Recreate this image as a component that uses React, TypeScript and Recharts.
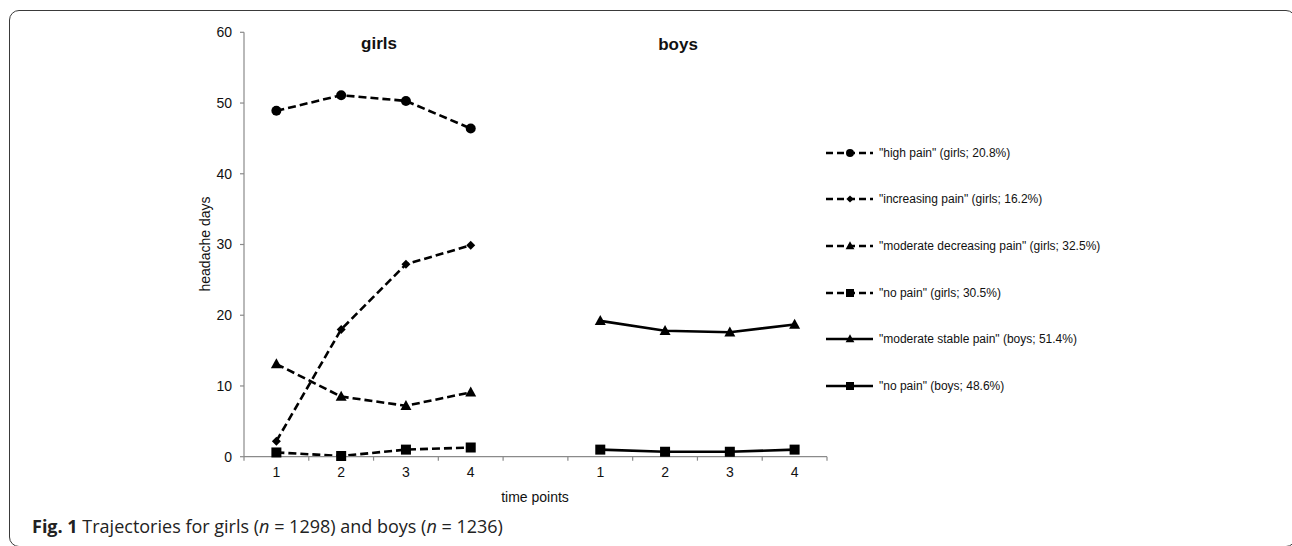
import React from 'react';
import { LineChart, Line, XAxis, YAxis, Legend } from 'recharts';

// ---------- data ----------
const TIME_LABELS = ['1', '2', '3', '4', '', '1', '2', '3', '4'];
const GIRLS_SLOTS = [1, 2, 3, 4];
const BOYS_SLOTS = [6, 7, 8, 9];

const girlsHighPain = [48.9, 51.1, 50.3, 46.4];
const girlsIncreasingPain = [2.2, 18.0, 27.2, 29.9];
const girlsModerateDecreasing = [13.1, 8.5, 7.2, 9.1];
const girlsNoPain = [0.6, 0.1, 1.0, 1.3];
const boysModerateStable = [19.2, 17.8, 17.6, 18.7];
const boysNoPain = [1.0, 0.7, 0.7, 1.0];

const Y_TICKS = [0, 10, 20, 30, 40, 50, 60];

type Shape = 'circle' | 'diamond' | 'triangle' | 'square';
interface SeriesDef {
  key: string;
  name: string;
  values: number[];
  group: 'girls' | 'boys';
  shape: Shape;
  dashed: boolean;
}

const SERIES: SeriesDef[] = [
  { key: 'girlsHigh', name: '"high pain" (girls; 20.8%)', values: girlsHighPain, group: 'girls', shape: 'circle', dashed: true },
  { key: 'girlsInc', name: '"increasing pain" (girls; 16.2%)', values: girlsIncreasingPain, group: 'girls', shape: 'diamond', dashed: true },
  { key: 'girlsModDec', name: '"moderate decreasing pain" (girls; 32.5%)', values: girlsModerateDecreasing, group: 'girls', shape: 'triangle', dashed: true },
  { key: 'girlsNo', name: '"no pain" (girls; 30.5%)', values: girlsNoPain, group: 'girls', shape: 'square', dashed: true },
  { key: 'boysModStable', name: '"moderate stable pain" (boys; 51.4%)', values: boysModerateStable, group: 'boys', shape: 'triangle', dashed: false },
  { key: 'boysNo', name: '"no pain" (boys; 48.6%)', values: boysNoPain, group: 'boys', shape: 'square', dashed: false },
];

const DATA = TIME_LABELS.map((_, i) => {
  const slot = i + 1;
  const row: Record<string, number | null> = { x: slot };
  SERIES.forEach((s) => {
    const slots = s.group === 'girls' ? GIRLS_SLOTS : BOYS_SLOTS;
    const idx = slots.indexOf(slot);
    row[s.key] = idx >= 0 ? s.values[idx] : null;
  });
  return row;
});

const X_BOUNDS = TIME_LABELS.map((_, i) => i + 0.5).concat([TIME_LABELS.length + 0.5]);

// ---------- layout ----------
const W = 1292;
const H = 546;
const PLOT_LEFT = 244;
const PLOT_RIGHT = 827;
const PLOT_TOP = 32.3;
const PLOT_BOTTOM = 456.7;
const Y_AXIS_W = 60;
const X_AXIS_H = 30;
const BAND = (PLOT_RIGHT - PLOT_LEFT) / TIME_LABELS.length;
const FONT = '"Liberation Sans", Arial, Helvetica, sans-serif';
const INK = '#111';
const AXIS = '#8a8a8a';
const DASH = '8 4';

function Marker({ shape, cx, cy, size }: { shape: Shape; cx: number; cy: number; size: number }) {
  const h = size / 2;
  if (shape === 'circle') return <circle cx={cx} cy={cy} r={h} fill="#000" />;
  if (shape === 'square') return <rect x={cx - h} y={cy - h} width={size} height={size} fill="#000" />;
  if (shape === 'diamond') {
    const d = h * 0.9;
    return <polygon points={`${cx},${cy - d} ${cx + d},${cy} ${cx},${cy + d} ${cx - d},${cy}`} fill="#000" />;
  }
  const w = size * 1.1;
  const ht = size;
  return (
    <polygon
      points={`${cx},${cy - ht * 0.58} ${cx + w / 2},${cy + ht * 0.42} ${cx - w / 2},${cy + ht * 0.42}`}
      fill="#000"
    />
  );
}

function makeDot(shape: Shape) {
  return (props: any) => {
    const { cx, cy, index } = props;
    if (cx == null || cy == null || props.value == null || Number.isNaN(cy)) return <g key={`d-${index}`} />;
    return (
      <g key={`d-${index}`}>
        <Marker shape={shape} cx={cx} cy={cy} size={10} />
      </g>
    );
  };
}

function TimeTick(props: any) {
  const { x, y, payload } = props;
  const idx = Math.round(payload.value - 0.5);
  const label = TIME_LABELS[idx];
  if (!label) return <g />;
  return (
    <text x={x + BAND / 2} y={y} dy="0.71em" textAnchor="middle" fontSize={14} fill={INK} fontFamily={FONT}>
      {label}
    </text>
  );
}

function LegendContent() {
  return (
    <div style={{ fontFamily: FONT, fontSize: 12, color: INK }}>
      {SERIES.map((s) => (
        <div key={s.key} style={{ height: 46.67, display: 'flex', alignItems: 'center', whiteSpace: 'nowrap' }}>
          <svg width={48} height={12} style={{ display: 'block' }}>
            <line x1={0} y1={6} x2={47} y2={6} stroke="#000" strokeWidth={2.5} strokeDasharray={s.dashed ? '7 4' : undefined} />
            <Marker shape={s.shape} cx={24} cy={6} size={8} />
          </svg>
          <span style={{ marginLeft: 5 }}>{s.name}</span>
        </div>
      ))}
    </div>
  );
}

export default function App() {
  return (
    <div style={{ position: 'absolute', left: 0, top: 0, width: W, height: H, overflow: 'hidden', background: '#fff' }}>
      <div
        style={{
          position: 'absolute',
          left: 9,
          top: 10,
          width: 1287,
          height: 537,
          border: '1.4px solid #3a3a3a',
          borderRadius: 10,
          boxSizing: 'border-box',
        }}
      />
      <div style={{ position: 'absolute', left: 0, top: 0 }}>
        <LineChart
          width={W}
          height={H}
          data={DATA}
          margin={{
            top: PLOT_TOP,
            left: PLOT_LEFT - Y_AXIS_W,
            right: W - PLOT_RIGHT,
            bottom: H - PLOT_BOTTOM - X_AXIS_H,
          }}
        >
          <XAxis
            type="number"
            dataKey="x"
            domain={[0.5, TIME_LABELS.length + 0.5]}
            ticks={X_BOUNDS}
            interval={0}
            allowDataOverflow
            height={X_AXIS_H}
            tickSize={4}
            tickMargin={6}
            tick={<TimeTick />}
            axisLine={{ stroke: AXIS, strokeWidth: 1.2 }}
            tickLine={{ stroke: AXIS, strokeWidth: 1.2 }}
          />
          <YAxis
            type="number"
            domain={[0, 60]}
            ticks={Y_TICKS}
            interval={0}
            width={Y_AXIS_W}
            tickSize={4}
            tickMargin={8}
            tick={{ fontSize: 14, fill: INK, fontFamily: FONT }}
            axisLine={{ stroke: AXIS, strokeWidth: 1.2 }}
            tickLine={{ stroke: AXIS, strokeWidth: 1.2 }}
          />
          <Legend
            layout="vertical"
            align="center"
            verticalAlign="middle"
            content={<LegendContent />}
            wrapperStyle={{ position: 'absolute', left: 826, top: 129.4, width: 420, height: 290 }}
          />
          {SERIES.map((s) => (
            <Line
              key={s.key}
              type="linear"
              dataKey={s.key}
              name={s.name}
              stroke="#000"
              strokeWidth={2.6}
              strokeDasharray={s.dashed ? DASH : undefined}
              dot={makeDot(s.shape)}
              activeDot={false}
              isAnimationActive={false}
              connectNulls={false}
            />
          ))}
        </LineChart>
      </div>
      <svg width={W} height={H} style={{ position: 'absolute', left: 0, top: 0, pointerEvents: 'none' }}>
        <text x={379} y={43} textAnchor="middle" dominantBaseline="central" fontSize={17} fontWeight="bold" fill={INK} fontFamily={FONT}>
          girls
        </text>
        <text x={678} y={44} textAnchor="middle" dominantBaseline="central" fontSize={17} fontWeight="bold" fill={INK} fontFamily={FONT}>
          boys
        </text>
        <text
          x={205}
          y={244}
          textAnchor="middle"
          dominantBaseline="central"
          fontSize={14}
          fill={INK}
          fontFamily={FONT}
          transform="rotate(-90 205 244)"
        >
          headache days
        </text>
        <text x={535} y={497} textAnchor="middle" dominantBaseline="central" fontSize={14} fill={INK} fontFamily={FONT}>
          time points
        </text>
      </svg>
      <div
        style={{
          position: 'absolute',
          left: 32,
          top: 513.7,
          fontFamily: '"Open Sans", "Noto Sans", sans-serif',
          fontSize: 18,
          lineHeight: '24px',
          color: '#222',
          whiteSpace: 'nowrap',
        }}
      >
        <b>Fig. 1</b> Trajectories for girls (<i>n</i> = 1298) and boys (<i>n</i> = 1236)
      </div>
    </div>
  );
}
